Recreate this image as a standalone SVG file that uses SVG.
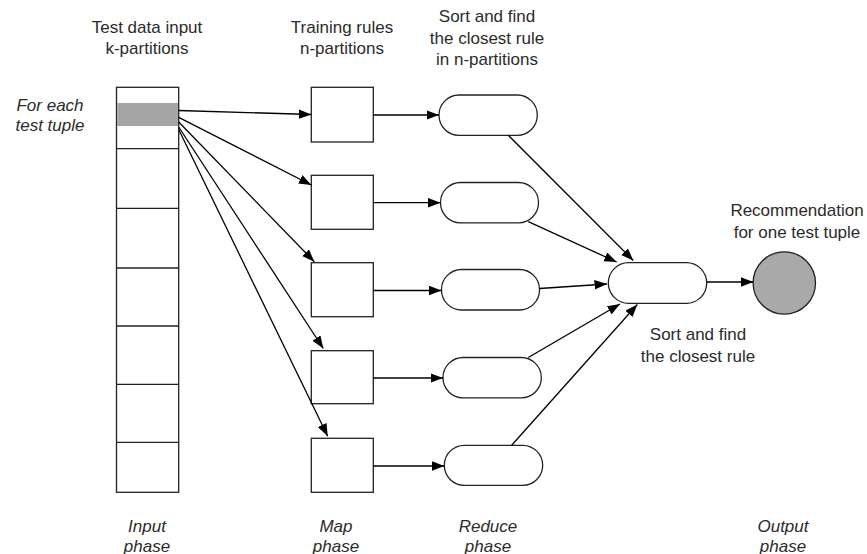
<svg xmlns="http://www.w3.org/2000/svg" width="867" height="554" viewBox="0 0 867 554">
<style>
  .lbl{font-family:"Liberation Sans",Arial,sans-serif;font-size:17px;fill:#2b2b2b;text-anchor:middle}
  .it{font-style:italic}
  .box{fill:#fff;stroke:#222;stroke-width:1.3}
  .pill{fill:#fff;stroke:#222;stroke-width:1.3}
  .cn{stroke:#000;stroke-width:1.3;fill:none;marker-end:url(#ah)}
  .div{stroke:#222;stroke-width:1.3}
</style>
<defs>
  <marker id="ah" markerUnits="userSpaceOnUse" markerWidth="13" markerHeight="10" refX="12.5" refY="4.75" orient="auto">
    <path d="M0,0 L12.5,4.75 L0,9.5 z" fill="#000"/>
  </marker>
</defs>
<rect width="867" height="554" fill="#fff"/>

<!-- Header labels -->
<g id="labels">
  <text class="lbl" x="147" y="32.5">Test data input</text>
  <text class="lbl" x="147" y="54">k-partitions</text>
  <text class="lbl" x="342" y="32.5">Training rules</text>
  <text class="lbl" x="342" y="54">n-partitions</text>
  <text class="lbl" x="487" y="22">Sort and find</text>
  <text class="lbl" x="487" y="43.5">the closest rule</text>
  <text class="lbl" x="487" y="65">in n-partitions</text>
  <text class="lbl it" x="50" y="111">For each</text>
  <text class="lbl it" x="50" y="131">test tuple</text>
  <text class="lbl" x="797" y="216">Recommendation</text>
  <text class="lbl" x="797" y="237.5">for one test tuple</text>
  <text class="lbl" x="698" y="340">Sort and find</text>
  <text class="lbl" x="698" y="362">the closest rule</text>
  <text class="lbl it" x="147" y="531.5">Input</text>
  <text class="lbl it" x="147" y="551.5">phase</text>
  <text class="lbl it" x="336" y="531.5">Map</text>
  <text class="lbl it" x="336" y="551.5">phase</text>
  <text class="lbl it" x="488" y="531.5">Reduce</text>
  <text class="lbl it" x="488" y="551.5">phase</text>
  <text class="lbl it" x="783" y="531.5">Output</text>
  <text class="lbl it" x="783" y="551.5">phase</text>
</g>

<!-- Input column -->
<g id="input">
  <rect class="box" x="116.5" y="87.3" width="62.2" height="405"/>
  <rect x="117.2" y="103" width="60.8" height="23" fill="#a6a6a6"/>
  <line class="div" x1="116.5" y1="148.6" x2="178.7" y2="148.6"/>
  <line class="div" x1="116.5" y1="208.3" x2="178.7" y2="208.3"/>
  <line class="div" x1="116.5" y1="268" x2="178.7" y2="268"/>
  <line class="div" x1="116.5" y1="326" x2="178.7" y2="326"/>
  <line class="div" x1="116.5" y1="384.3" x2="178.7" y2="384.3"/>
  <line class="div" x1="116.5" y1="442.3" x2="178.7" y2="442.3"/>
</g>

<!-- Map boxes -->
<g id="map1"><rect class="box" x="311.3" y="87.3" width="62" height="54.7"/></g>
<g id="map2"><rect class="box" x="311.3" y="175.3" width="62" height="54"/></g>
<g id="map3"><rect class="box" x="311.3" y="262.7" width="62" height="54"/></g>
<g id="map4"><rect class="box" x="311.3" y="350.7" width="62" height="53"/></g>
<g id="map5"><rect class="box" x="311.3" y="438.3" width="62" height="54"/></g>

<!-- Reduce pills -->
<g id="red1"><rect class="pill" x="439" y="95" width="98.3" height="40.3" rx="20" ry="20"/></g>
<g id="red2"><rect class="pill" x="440.5" y="182.5" width="98" height="40.3" rx="20" ry="20"/></g>
<g id="red3"><rect class="pill" x="441.5" y="269.5" width="98" height="40.5" rx="20" ry="20"/></g>
<g id="red4"><rect class="pill" x="443" y="357.5" width="98.3" height="40.3" rx="20" ry="20"/></g>
<g id="red5"><rect class="pill" x="444.3" y="445.3" width="98.4" height="40" rx="20" ry="20"/></g>

<!-- Final reduce -->
<g id="final"><rect class="pill" x="608.3" y="262.7" width="98.4" height="40.6" rx="20.3" ry="20.3"/></g>

<!-- Output -->
<g id="output"><circle cx="784.3" cy="283" r="31.2" fill="#a9a9a9" stroke="#222" stroke-width="1.3"/></g>

<!-- Connectors -->
<g id="connectors">
  <line class="cn" x1="178.7" y1="110.5" x2="311.3" y2="114.5"/>
  <line class="cn" x1="178.7" y1="117.3" x2="311.3" y2="185"/>
  <line class="cn" x1="178.7" y1="122" x2="314.3" y2="261.7"/>
  <line class="cn" x1="178.7" y1="127" x2="323.3" y2="348.5"/>
  <line class="cn" x1="178.7" y1="129.5" x2="327.7" y2="436.3"/>

  <line class="cn" x1="373.3" y1="115" x2="439" y2="115"/>
  <line class="cn" x1="373.3" y1="202.7" x2="440.5" y2="202.7"/>
  <line class="cn" x1="373.3" y1="290.5" x2="441.5" y2="290.5"/>
  <line class="cn" x1="373.3" y1="378" x2="443" y2="378"/>
  <line class="cn" x1="373.3" y1="466" x2="444.3" y2="466"/>

  <line class="cn" x1="508.3" y1="135.3" x2="633.3" y2="260.5"/>
  <line class="cn" x1="528.3" y1="221.7" x2="616.7" y2="262"/>
  <line class="cn" x1="539.5" y1="288.5" x2="607" y2="284"/>
  <line class="cn" x1="528.3" y1="357.5" x2="620" y2="304"/>
  <line class="cn" x1="511.7" y1="445.3" x2="637.3" y2="304.5"/>

  <line class="cn" x1="706.7" y1="282" x2="753.3" y2="282"/>
</g>
</svg>
